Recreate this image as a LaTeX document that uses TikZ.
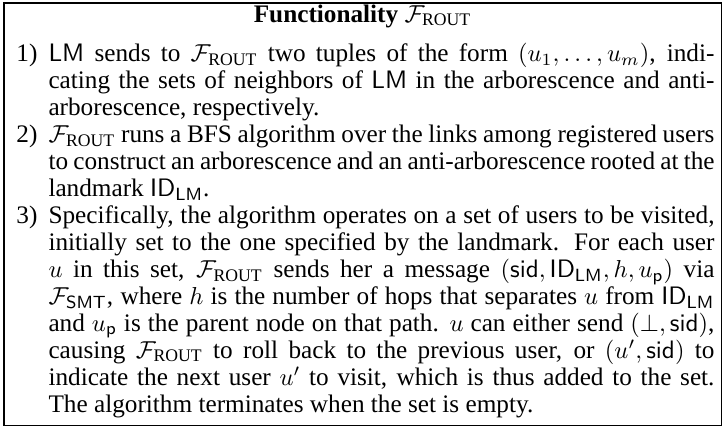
\documentclass[tikz,border=0pt]{standalone}
\usepackage{fontspec}
\setmainfont{Liberation Serif}
\newcommand{\Frout}{\mathcal{F}_{\mathrm{ROUT}}}
\newcommand{\Fsmt}{\mathcal{F}_{\mathsf{SMT}}}
\newcommand{\IDlm}{\mathsf{ID}_{\mathsf{LM}}}
\newcommand{\LMsf}{\mathsf{LM}}

\begin{document}
\begin{tikzpicture}[x=1pt,y=1pt,
  every node/.style={inner sep=0pt,font=\fontsize{10.3pt}{11pt}\selectfont},
  itemlabel/.style={anchor=base west},
  itemtext/.style={anchor=base west,text width=271.8pt,align=justify}]
\useasboundingbox (0,0) rectangle (296.7,-175.9);
\draw[line width=0.5pt] (1.6,-1.2) rectangle (294.3,-173.5);
\node[anchor=base] (title) at (148,-9.1) {\textbf{Functionality} $\Frout$};
% the three steps
\node[itemlabel] (l1) at (6.5,-25.2) {1)};
\node[itemtext] (i1) at (19.6,-25.2) {$\LMsf$ sends to $\Frout$ two tuples of the form $(u_1,\ldots,u_m)$, indi-\linebreak
  cating the sets of neighbors of $\LMsf$ in the arborescence and anti-\linebreak
  arborescence, respectively.};
\node[itemlabel] (l2) at (6.5,-58.2) {2)};
\node[itemtext] (i2) at (19.6,-58.2) {$\Frout$ runs a BFS algorithm over the links among registered users\linebreak
  to construct an arborescence and an anti-arborescence rooted at the\linebreak
  landmark $\IDlm$.};
\node[itemlabel] (l3) at (6.5,-91.2) {3)};
\node[itemtext] (i3) at (19.6,-91.2) {Specifically, the algorithm operates on a set of users to be visited,\linebreak
  initially set to the one specified by the landmark. For each user\linebreak
  $u$ in this set, $\Frout$ sends her a message $(\mathsf{sid},\IDlm,h,u_{\mathsf{p}})$ via\linebreak
  $\Fsmt$, where $h$ is the number of hops that separates $u$ from $\IDlm$\linebreak
  and $u_{\mathsf{p}}$ is the parent node on that path. $u$ can either send $(\bot,\mathsf{sid})$,\linebreak
  causing $\Frout$ to roll back to the previous user, or $(u',\mathsf{sid})$ to\linebreak
  indicate the next user $u'$ to visit, which is thus added to the set.\linebreak
  The algorithm terminates when the set is empty.};
\end{tikzpicture}
\end{document}
